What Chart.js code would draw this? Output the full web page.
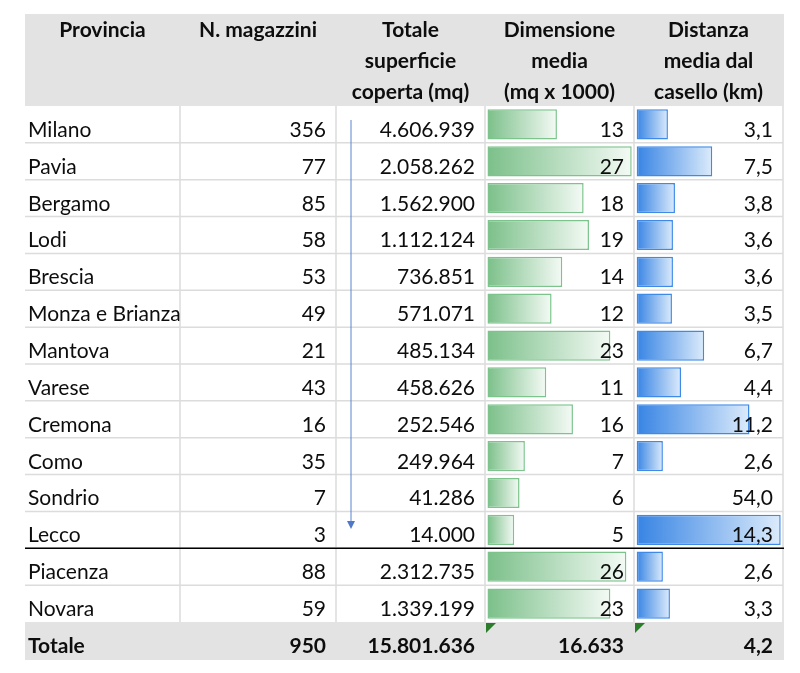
<!DOCTYPE html>
<html>
<head>
<meta charset="utf-8">
<script src="https://cdn.jsdelivr.net/npm/chart.js@4.4.1/dist/chart.umd.min.js"></script>
<style>
  html, body { margin: 0; padding: 0; background: #fff; }
  #wrap { position: relative; width: 800px; height: 673px; }
</style>
</head>
<body>
<div id="wrap"><canvas id="tabella"></canvas></div>
<script>
const province = ['Milano', 'Pavia', 'Bergamo', 'Lodi', 'Brescia', 'Monza e Brianza', 'Mantova',
  'Varese', 'Cremona', 'Como', 'Sondrio', 'Lecco', 'Piacenza', 'Novara'];
const magazzini = [356, 77, 85, 58, 53, 49, 21, 43, 16, 35, 7, 3, 88, 59];
const superficie = [4606939, 2058262, 1562900, 1112124, 736851, 571071, 485134,
  458626, 252546, 249964, 41286, 14000, 2312735, 1339199];
const dimensione = [13, 27, 18, 19, 14, 12, 23, 11, 16, 7, 6, 5, 26, 23];
const distanza = [3.1, 7.5, 3.8, 3.6, 3.6, 3.5, 6.7, 4.4, 11.2, 2.6, 54.0, 14.3, 2.6, 3.3];
const totali = ['Totale', 950, 15801636, 16633, 4.2];
const intestazioni = [
  ['Provincia'],
  ['N. magazzini'],
  ['Totale', 'superficie', 'coperta (mq)'],
  ['Dimensione', 'media', '(mq x 1000)'],
  ['Distanza', 'media dal', 'casello (km)']
];

// Sondrio (54 km) fuori scala: nessuna barra
const barreDistanza = distanza.map(v => v > 50 ? null : v);

// layout della tabella
const colonne = [25, 180, 336, 485, 634, 783];
const AREA = { left: 25, right: 783, top: 106, bottom: 622 };
const HEADER_TOP = 14;
const TOTAL_H = 38;
const FONT = 'Lato, "Noto Sans", sans-serif';

function migliaia(n) {
  return String(n).replace(/\B(?=(\d{3})+(?!\d))/g, '.');
}
function decimale(n) {
  return n.toFixed(1).replace('.', ',');
}

// limiti della scala perche' lo 0 cada all'inizio della barra nella colonna
function limiti(x0, x1, vmax) {
  const k = (x1 - x0) / vmax;
  return { min: -(x0 - AREA.left) / k, max: (AREA.right - x0) / k };
}
const scalaDim = limiti(487.5, 631.7, Math.max(...dimensione));
const scalaDist = limiti(636.7, 780.7, Math.max(...barreDistanza.filter(v => v !== null)));

function sfumatura(asse, c1, c2) {
  return function (ctx) {
    const chart = ctx.chart;
    const s = chart.scales[asse];
    if (!chart.chartArea || !s || ctx.raw == null) return c1;
    const x0 = s.getPixelForValue(0);
    const x1 = s.getPixelForValue(ctx.raw);
    const g = chart.ctx.createLinearGradient(x0, 0, x1, 0);
    g.addColorStop(0, c1);
    g.addColorStop(1, c2);
    return g;
  };
}

const tabellaPlugin = {
  id: 'tabella',
  beforeDatasetsDraw(chart) {
    const c = chart.ctx;
    const a = chart.chartArea;
    const rowH = (a.bottom - a.top) / province.length;
    c.save();
    // sfondo intestazione e totale
    c.fillStyle = '#e3e3e3';
    c.fillRect(a.left, HEADER_TOP, a.right - a.left + 1, a.top - HEADER_TOP);
    c.fillRect(a.left, a.bottom, a.right - a.left + 1, TOTAL_H);
    // griglia
    c.strokeStyle = '#dcdcdc';
    c.lineWidth = 1.5;
    c.beginPath();
    for (let i = 1; i < province.length; i++) {
      const y = a.top + i * rowH;
      c.moveTo(a.left, y);
      c.lineTo(a.right, y);
    }
    for (let j = 1; j < colonne.length; j++) {
      c.moveTo(colonne[j], a.top);
      c.lineTo(colonne[j], a.bottom);
    }
    c.stroke();
    c.restore();
  },
  afterDatasetsDraw(chart) {
    const c = chart.ctx;
    const a = chart.chartArea;
    const rowH = (a.bottom - a.top) / province.length;
    const pad = 10;
    c.save();
    c.fillStyle = '#0d0d0d';
    c.textBaseline = 'alphabetic';

    // intestazioni
    c.font = 'bold 21px ' + FONT;
    c.textAlign = 'center';
    intestazioni.forEach((righe, j) => {
      const cx = (colonne[j] + colonne[j + 1]) / 2;
      righe.forEach((t, r) => c.fillText(t, cx, 37 + r * 31));
    });

    // righe
    c.font = '21px ' + FONT;
    province.forEach((p, i) => {
      const yb = a.top + (i + 1) * rowH - 6;
      c.textAlign = 'left';
      c.fillText(p, colonne[0] + 3, yb);
      c.textAlign = 'right';
      c.fillText(String(magazzini[i]), colonne[2] - pad, yb);
      c.fillText(migliaia(superficie[i]), colonne[3] - pad, yb);
      c.fillText(String(dimensione[i]), colonne[4] - pad, yb);
      c.fillText(decimale(distanza[i]), colonne[5] - pad, yb);
    });

    // totale
    c.font = 'bold 21px ' + FONT;
    const yt = a.bottom + TOTAL_H - 7;
    c.textAlign = 'left';
    c.fillText(totali[0], colonne[0] + 3, yt);
    c.textAlign = 'right';
    c.fillText(String(totali[1]), colonne[2] - pad, yt);
    c.fillText(migliaia(totali[2]), colonne[3] - pad, yt);
    c.fillText(migliaia(totali[3]), colonne[4] - pad, yt);
    c.fillText(decimale(totali[4]), colonne[5] - pad, yt);

    // linea nera dopo Lecco
    const ySep = a.top + 12 * rowH;
    c.strokeStyle = '#000';
    c.lineWidth = 1.5;
    c.beginPath();
    c.moveTo(a.left, ySep);
    c.lineTo(a.right + 1, ySep);
    c.stroke();

    // freccia
    c.strokeStyle = '#5b84d0';
    c.fillStyle = '#4f78c8';
    c.lineWidth = 1;
    c.beginPath();
    c.moveTo(351, 120);
    c.lineTo(351, 523);
    c.stroke();
    c.beginPath();
    c.moveTo(347, 521);
    c.lineTo(355, 521);
    c.lineTo(351, 529);
    c.closePath();
    c.fill();

    // triangoli verdi
    c.fillStyle = '#2b7d2b';
    [colonne[3], colonne[4]].forEach(x => {
      c.beginPath();
      c.moveTo(x + 1, a.bottom + 1);
      c.lineTo(x + 11, a.bottom + 1);
      c.lineTo(x + 1, a.bottom + 11);
      c.closePath();
      c.fill();
    });
    c.restore();
  }
};

new Chart(document.getElementById('tabella'), {
  type: 'bar',
  data: {
    labels: province,
    datasets: [
      {
        data: dimensione,
        xAxisID: 'xDim',
        backgroundColor: sfumatura('xDim', '#7cc08a', '#f4faf5'),
        borderColor: '#7cc48c',
        borderWidth: 1.5,
        borderSkipped: false
      },
      {
        data: barreDistanza,
        xAxisID: 'xDist',
        backgroundColor: sfumatura('xDist', '#3784e4', '#dcebfb'),
        borderColor: '#3f8ae8',
        borderWidth: 1.5,
        borderSkipped: false
      }
    ]
  },
  options: {
    indexAxis: 'y',
    responsive: true,
    maintainAspectRatio: false,
    animation: false,
    grouped: false,
    barPercentage: 0.82,
    categoryPercentage: 1,
    layout: {
      padding: { left: AREA.left, right: 800 - AREA.right, top: AREA.top, bottom: 673 - AREA.bottom }
    },
    scales: {
      y: { type: 'category', display: false },
      xDim: { type: 'linear', position: 'bottom', display: false, min: scalaDim.min, max: scalaDim.max },
      xDist: { type: 'linear', position: 'bottom', display: false, min: scalaDist.min, max: scalaDist.max }
    },
    plugins: {
      legend: { display: false },
      tooltip: { enabled: false }
    }
  },
  plugins: [tabellaPlugin]
});
</script>
</body>
</html>
